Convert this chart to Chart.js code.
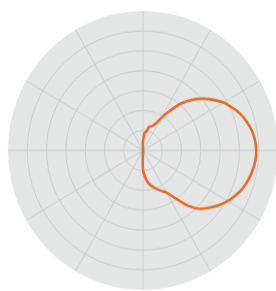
<!DOCTYPE html>
<html>
<head>
<meta charset="utf-8">
<script src="https://cdn.jsdelivr.net/npm/chart.js@4.4.1/dist/chart.umd.min.js"></script>
<style>
  html, body { margin: 0; padding: 0; background: #ffffff; overflow: hidden; width: 276px; height: 291px; }
  #wrap { position: absolute; left: 8px; top: 11px; width: 271px; height: 271px; transform: scaleY(1.033); transform-origin: 0 0; }
</style>
</head>
<body>
<div id="wrap"><canvas id="c" width="271" height="271"></canvas></div>
<script>
// Angles (degrees, clockwise from the right/east direction), 5° step
const angles = [];
for (let a = 0; a < 360; a += 5) angles.push(a + '°');

// Radius values (ring units, 0..7), index i -> angle i*5°
// 0°..90° (lower right quadrant)
const lowerHalf = [5.87, 5.85, 5.77, 5.66, 5.51, 5.31, 5.08, 4.80, 4.48, 4.14,
                   3.61, 2.92, 2.45, 2.24, 2.05, 1.87, 1.68, 1.36, 0.98];
// 95°..265° (left half: pattern collapses to zero)
const leftHalf = [0, 0, 0, 0, 0, 0, 0, 0, 0, 0, 0, 0, 0, 0, 0, 0, 0, 0,
                  0, 0, 0, 0, 0, 0, 0, 0, 0, 0, 0, 0, 0, 0, 0, 0, 0];
// 270°..355° (upper right quadrant, from -90° to -5°)
const upperHalf = [0.45, 0.88, 0.97, 1.23, 1.29, 1.44, 1.87, 2.42, 3.08, 3.60,
                   4.04, 4.44, 4.82, 5.10, 5.37, 5.57, 5.73, 5.83];

const values = lowerHalf.concat(leftHalf, upperHalf);

const ringTicks = [1, 2, 3, 4, 5, 6, 7];
const rMax = 7;

new Chart(document.getElementById('c'), {
  type: 'radar',
  data: {
    labels: angles,
    datasets: [{
      data: values,
      borderColor: '#E96C2A',
      borderWidth: 2.6,
      fill: false,
      pointRadius: 0,
      pointHoverRadius: 0,
      tension: 0.35
    }]
  },
  options: {
    responsive: false,
    animation: false,
    layout: { padding: 0 },
    plugins: { legend: { display: false }, tooltip: { enabled: false } },
    scales: {
      r: {
        min: 0,
        max: rMax,
        startAngle: 90,
        backgroundColor: '#E4E6E6',
        ticks: { display: false, stepSize: 1 },
        afterBuildTicks: (s) => { s.ticks = [{value: 0}].concat(ringTicks.map(v => ({ value: v }))); },
        pointLabels: { display: false },
        grid: {
          circular: true,
          color: (ctx) => (ctx.tick && ctx.tick.value >= rMax) ? 'rgba(0,0,0,0)' : '#CBCFCF',
          lineWidth: 1
        },
        angleLines: {
          display: true,
          color: (ctx) => (ctx.index % 6 === 0) ? '#CBCFCF' : 'rgba(0,0,0,0)',
          lineWidth: 1
        }
      }
    }
  }
});
</script>
</body>
</html>
